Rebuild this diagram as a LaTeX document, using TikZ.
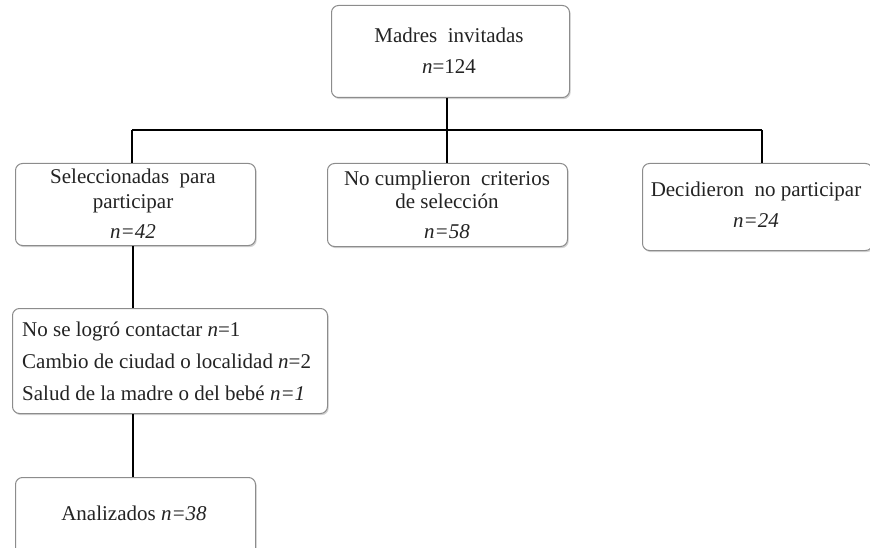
\documentclass[tikz,border=0pt]{standalone}
\usepackage{fontspec}
\setmainfont{Liberation Serif}
\usetikzlibrary{shadows}
\definecolor{boxline}{RGB}{140,140,140}
\definecolor{txt}{RGB}{35,35,35}
\tikzset{
  box/.style={draw=boxline, line width=1pt, fill=white, rounded corners=7pt,
    drop shadow={opacity=0.35, shadow xshift=1.2pt, shadow yshift=-1.6pt}},
  lbl/.style={text=txt, font=\fontsize{21}{24}\selectfont, inner sep=0pt, anchor=base},
  conn/.style={line width=2pt, black}
}
\begin{document}
\begin{tikzpicture}[x=1pt,y=-1pt]
\useasboundingbox (0,0) rectangle (870,548);
% boxes
\node[box, minimum width=238pt, minimum height=92pt, anchor=north west] (top) at (331,5) {};
\node[box, minimum width=240pt, minimum height=82pt, anchor=north west] (sel) at (15,163) {};
\node[box, minimum width=240pt, minimum height=83pt, anchor=north west] (nocum) at (327,163) {};
\node[box, minimum width=230pt, minimum height=87pt, anchor=north west] (dec) at (642,163) {};
\node[box, minimum width=315pt, minimum height=105pt, anchor=north west] (razones) at (12,308) {};
\node[box, minimum width=240pt, minimum height=80pt, anchor=north west] (anal) at (15,477) {};
% texts
\node[lbl] (t1) at (449,43) {Madres\ \ invitadas};
\node[lbl] (t2) at (449,74) {\textit{n}=124};
\node[lbl] (s1) at (133,184) {Seleccionadas\ \ para};
\node[lbl] (s2) at (133,209) {participar};
\node[lbl] (s3) at (133,238) {\textit{n=42}};
\node[lbl] (c1) at (447,186) {No cumplieron\ \ criterios};
\node[lbl] (c2) at (447,208) {de selección};
\node[lbl] (c3) at (447,238) {\textit{n=58}};
\node[lbl] (d1) at (756,197) {Decidieron\ \ no participar};
\node[lbl] (d2) at (756,228) {\textit{n=24}};
\node[lbl, anchor=base west] (r1) at (22,336) {No se logró contactar \textit{n}=1};
\node[lbl, anchor=base west] (r2) at (22,368) {Cambio de ciudad o localidad \textit{n}=2};
\node[lbl, anchor=base west] (r3) at (22,400) {Salud de la madre o del bebé \textit{n=1}};
\node[lbl] (a1) at (134,520) {Analizados \textit{n=38}};
% connectors
\coordinate (hl) at (132,130);
\coordinate (hr) at (762,130);
\coordinate (hm) at (447,130);
\draw[conn] (hl) -- (hr);
\draw[conn] (top.south -| hm) -- (hm);
\draw[conn] (hm) -- (nocum.north -| hm);
\draw[conn] (hl) -- (sel.north -| hl);
\draw[conn] (hr) -- (dec.north -| hr);
\draw[conn] (sel.south -| 133,0) -- (razones.north -| 133,0);
\draw[conn] (razones.south -| 133,0) -- (anal.north -| 133,0);
\end{tikzpicture}
\end{document}
